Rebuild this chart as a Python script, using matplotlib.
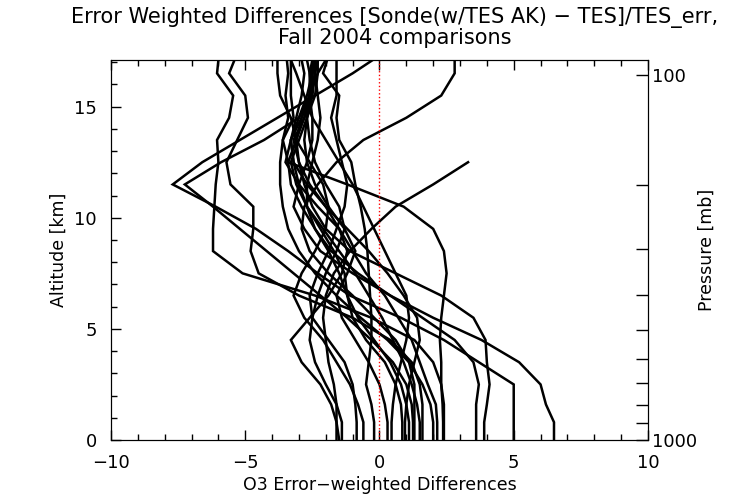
import matplotlib

matplotlib.use("Agg")
import matplotlib.pyplot as plt
import numpy as np
from matplotlib.ticker import MultipleLocator

NAN = float("nan")

# altitude levels (km) shared by every profile
ALTITUDE_KM = [0.0, 0.8, 1.6, 2.5, 3.5, 4.5, 5.5, 6.5, 7.5, 8.5, 9.5,
               10.5, 11.5, 12.5, 13.5, 14.5, 15.5, 16.5, 17.1]

# error-weighted differences, one row per sonde comparison
PROFILES = [
    [5.0, 5.0, 5.0, 5.0, 3.7, 2.4, 0.8, -1.1, -2.3, -3.4, -4.6, -6.1, -7.7, -6.6, -5.2, -3.8, -2.4, -1.0, -0.25],
    [1.25, 1.25, 1.2, 1.0, 0.5, -0.3, -1.2, -2.2, -3.2, -4.2, -5.2, -6.2, -7.25, -5.9, -4.3, -3.0, -2.6, -2.5, -2.4],
    [6.5, 6.5, 6.2, 6.0, 5.2, 3.8, 2.0, 0.4, -1.0, -2.2, -2.8, -3.2, -3.0, -2.7, -2.5, -2.5, -2.6, -2.6, -2.7],
    [2.4, 2.4, 2.4, 2.3, 2.0, 1.3, -0.3, -2.4, -5.1, -6.2, -6.2, -6.15, -6.1, -6.0, -6.05, -5.6, -5.45, -6.05, -6.0],
    [1.6, 1.6, 1.6, 1.5, 1.2, 0.4, -1.0, -3.0, -4.5, -4.8, -4.7, -4.7, -5.55, -5.7, -5.3, -4.9, -5.0, -5.6, -5.4],
    [-1.6, -1.6, -1.6, -1.7, -1.9, -2.0, -2.1, -2.0, -1.7, -1.1, -0.3, 0.6, 2.0, 3.3, NAN, NAN, NAN, NAN, NAN],
    [1.3, 1.3, 1.3, 1.3, 1.1, 0.6, -0.2, -1.0, -1.9, -2.6, -2.9, -2.8, -2.3, -1.6, -0.6, 1.0, 2.3, 2.8, 2.8],
    [-1.5, -1.6, -1.8, -2.2, -2.9, -3.3, -2.6, -1.9, -1.4, -1.2, -1.5, -2.0, -2.6, -3.0, -3.2, -2.8, -2.5, -2.6, -2.5],
    [-0.2, -0.2, -0.3, -0.5, -0.4, -0.3, -0.3, -0.35, -0.4, -0.45, -0.55, -0.7, -0.9, -1.05, -1.5, -1.6, -1.5, -2.1, -1.95],
    [-0.6, -0.6, -0.8, -1.1, -1.6, -2.1, -2.8, -3.2, -2.9, -2.4, -2.0, -1.9, -2.1, -2.6, -3.1, -3.3, -3.7, -3.8, -3.8],
    [0.3, 0.3, 0.2, 0.0, -0.4, -0.9, -1.4, -1.6, -1.2, -0.9, -1.3, -1.9, -2.4, -2.7, -2.8, -2.7, -2.4, -2.3, -2.3],
    [0.85, 0.85, 0.8, 0.6, 0.2, -0.5, -1.0, -1.2, -1.3, -1.7, -2.2, -2.7, -3.0, -3.2, -3.3, -3.1, -2.9, -2.8, -2.9],
    [3.9, 3.9, 4.0, 4.1, 4.0, 3.95, 3.5, 2.3, 0.6, -1.1, -2.0, -2.5, -2.8, -3.0, -3.1, -2.9, -2.6, -2.5, -2.5],
    [3.6, 3.6, 3.6, 3.7, 3.5, 2.8, 1.6, 0.4, -0.8, -1.8, -2.4, -2.7, -2.7, -2.5, -2.3, -2.2, -2.3, -2.4, -2.4],
    [2.37, 2.37, 2.35, 2.3, 2.3, 2.25, 2.3, 2.4, 2.5, 2.4, 2.0, 0.9, -1.2, -3.4, -3.6, -3.4, -3.5, -3.4, -3.45],
    [1.1, 1.1, 1.0, 0.8, 0.4, -0.2, -0.8, -1.2, -1.5, -1.9, -2.4, -2.9, -3.3, -3.4, -3.1, -2.8, -2.6, -2.5, -2.5],
    [1.5, 1.5, 1.4, 1.2, 0.9, 0.5, 0.1, -0.4, -0.9, -1.5, -2.1, -2.7, -3.1, -3.3, -3.0, -2.7, -2.5, -2.4, -2.4],
    [2.15, 2.15, 2.1, 1.8, 1.5, 1.2, 0.7, 0.2, -0.5, -1.0, -1.5, -2.3, -3.0, -3.5, -3.3, -2.9, -2.6, -2.3, -2.0],
    [-1.4, -1.4, -1.6, -2.0, -2.4, -2.6, -2.5, -2.3, -2.0, -1.6, -1.3, -1.5, -2.0, -2.4, -2.6, -2.7, -2.6, -2.4, -2.3],
    [-0.85, -0.85, -0.9, -1.0, -1.3, -1.9, -2.5, -2.6, -2.3, -1.9, -1.6, -1.3, -1.2, -1.4, -1.6, -1.8, -1.6, -1.6, -1.6],
    [0.45, 0.45, 0.5, 0.6, 0.8, 1.0, 1.1, 1.0, 0.6, 0.2, -0.2, -0.6, -1.0, -1.5, -2.0, -2.5, -2.8, -3.1, -3.3],
    [2.0, 2.0, 1.9, 1.6, 1.1, 0.3, -0.7, -1.6, -2.4, -3.0, -3.4, -3.6, -3.7, -3.7, -3.6, -3.2, -3.3, -3.3, -3.3],
    [0.95, 0.95, 1.0, 1.1, 1.3, 1.5, 1.4, 0.9, 0.3, -0.4, -1.2, -2.0, -2.7, -3.2, -3.3, -3.0, -2.7, -2.5, -2.4],
]

PRESSURE_LABELED = [100, 1000]
PRESSURE_MINOR = [200, 300, 400, 500, 600, 700, 800, 900]
SURFACE_PRESSURE = 1000.0
SCALE_HEIGHT_KM = 7.13

TITLE = "Error Weighted Differences [Sonde(w/TES AK) \u2212 TES]/TES_err,\nFall 2004 comparisons"

plt.rcParams["font.family"] = ["DejaVu Sans"]
plt.rcParams["axes.unicode_minus"] = True


def pressure_to_altitude(p):
    return SCALE_HEIGHT_KM * np.log(SURFACE_PRESSURE / np.asarray(p, dtype=float))


fig = plt.figure(figsize=(7.38, 4.97), dpi=100)
ax = fig.add_axes([0.1504, 0.1147, 0.7276, 0.7646])

alt = np.asarray(ALTITUDE_KM)
for row in PROFILES:
    ax.plot(row, alt, color="black", linewidth=1.8, solid_joinstyle="miter")

ax.plot([0, 0], [0, 17.1], color="red", linestyle=":", linewidth=1.0)

ax.set_xlim(-10, 10)
ax.set_ylim(0, 17.1)
ax.xaxis.set_major_locator(MultipleLocator(5))
ax.xaxis.set_minor_locator(MultipleLocator(1))
ax.yaxis.set_major_locator(MultipleLocator(5))
ax.yaxis.set_minor_locator(MultipleLocator(1))
ax.tick_params(which="both", direction="in", top=True, right=False, labelsize=13)
ax.tick_params(axis="x", pad=10)
ax.tick_params(axis="y", pad=10)
ax.tick_params(which="major", length=7, width=1)
ax.tick_params(which="minor", length=4, width=1)
ax.set_xlabel("O3 Error\u2212weighted Differences", fontsize=12.5, labelpad=3)
ax.set_ylabel("Altitude [km]", fontsize=12.5, labelpad=5)

ax2 = ax.twinx()
ax2.set_ylim(ax.get_ylim())
ax2.set_yticks(pressure_to_altitude(PRESSURE_LABELED))
ax2.set_yticklabels([str(p) for p in PRESSURE_LABELED])
ax2.set_yticks(pressure_to_altitude(PRESSURE_MINOR), minor=True)
ax2.tick_params(which="both", direction="in", length=9, width=1, labelsize=13, pad=3)
ax2.set_ylabel("Pressure [mb]", fontsize=12.5, labelpad=0)

fig.text(0.535, 0.985, TITLE, ha="center", va="top", fontsize=15, linespacing=0.95)

fig.savefig("out.png", dpi=100)
